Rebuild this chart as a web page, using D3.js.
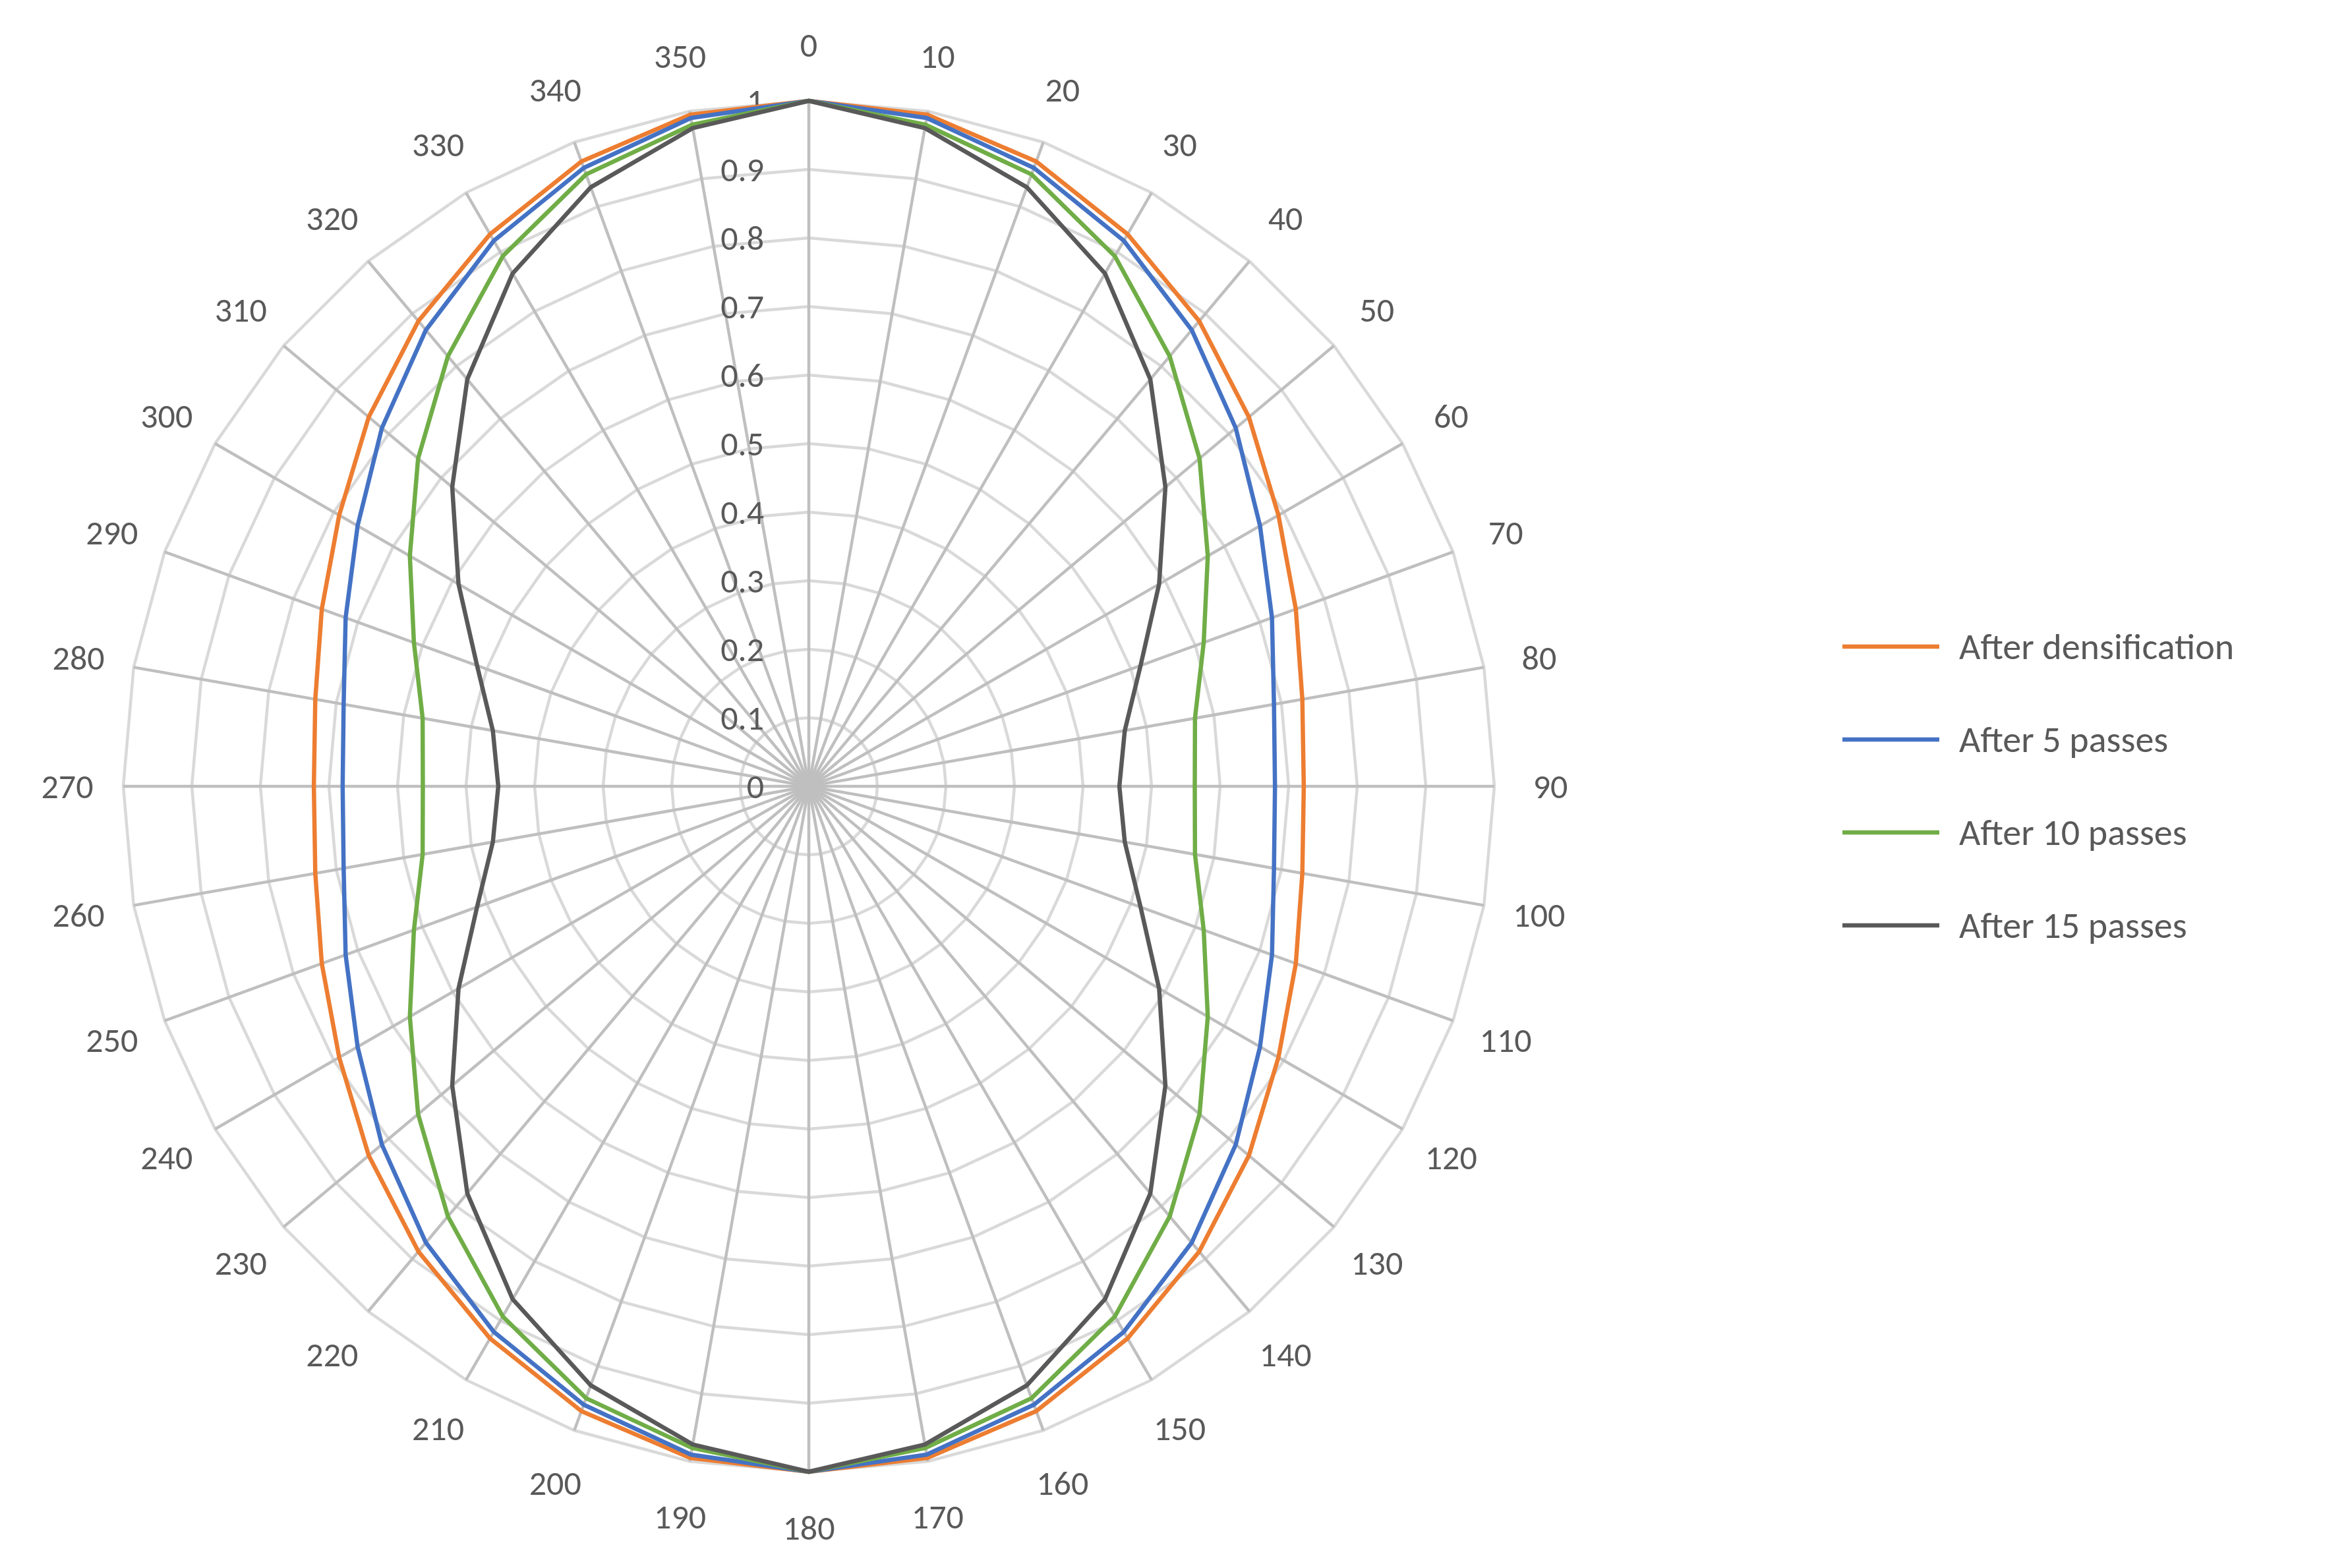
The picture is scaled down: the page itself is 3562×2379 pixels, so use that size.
<!DOCTYPE html>
<html>
<head>
<meta charset="utf-8">
<script src="https://cdn.jsdelivr.net/npm/d3@7"></script>
<style>
  body { margin: 0; background: #fff; }
  svg { display: block; font-family: Calibri, Carlito, "Open Sans", sans-serif; }
</style>
</head>
<body>
<svg id="chart" width="3562" height="2379"></svg>
<script>
// Углы (категории)
const angles = d3.range(0, 360, 10)
const ringTicks = [0, 0.1, 0.2, 0.3, 0.4, 0.5, 0.6, 0.7, 0.8, 0.9, 1]
const seriesNames = ['After densification', 'After 5 passes', 'After 10 passes', 'After 15 passes']

// Значения серий, 0..350
const densification = [1, 0.995, 0.97, 0.93, 0.886, 0.838, 0.791, 0.756, 0.731, 0.722, 0.731, 0.756, 0.791, 0.838, 0.886, 0.93, 0.97, 0.995,
  1, 0.995, 0.97, 0.93, 0.886, 0.838, 0.791, 0.756, 0.731, 0.722, 0.731, 0.756, 0.791, 0.838, 0.886, 0.93, 0.97, 0.995]
const passes5 = [1, 0.99, 0.96, 0.919, 0.869, 0.813, 0.76, 0.719, 0.689, 0.68, 0.689, 0.719, 0.76, 0.813, 0.869, 0.919, 0.96, 0.99,
  1, 0.99, 0.96, 0.919, 0.869, 0.813, 0.76, 0.719, 0.689, 0.68, 0.689, 0.719, 0.76, 0.813, 0.869, 0.919, 0.96, 0.99]
const passes10 = [1, 0.98, 0.95, 0.893, 0.819, 0.744, 0.672, 0.613, 0.572, 0.563, 0.572, 0.613, 0.672, 0.744, 0.819, 0.893, 0.95, 0.98,
  1, 0.98, 0.95, 0.893, 0.819, 0.744, 0.672, 0.613, 0.572, 0.563, 0.572, 0.613, 0.672, 0.744, 0.819, 0.893, 0.95, 0.98]
const passes15 = [1, 0.975, 0.93, 0.864, 0.775, 0.679, 0.59, 0.515, 0.468, 0.453, 0.468, 0.515, 0.59, 0.679, 0.775, 0.864, 0.93, 0.975,
  1, 0.975, 0.93, 0.864, 0.775, 0.679, 0.59, 0.515, 0.468, 0.453, 0.468, 0.515, 0.59, 0.679, 0.775, 0.864, 0.93, 0.975]

const colors = ['#ED7D31', '#4472C4', '#70AD47', '#595959']
const series = [densification, passes5, passes10, passes15]

const cx = 1227, cy = 1193, R = 1040
const svg = d3.select('#chart')
const g = svg.append('g').attr('transform', `translate(${cx},${cy})`)

const rScale = d3.scaleLinear().domain([0, 1]).range([0, R])
const aScale = d3.scaleLinear().domain([0, 360]).range([0, 2 * Math.PI])

// Кольца сетки (многоугольники)
const ring = d3.lineRadial()
  .angle(d => aScale(d))
  .radius(function () { return this })
  .curve(d3.curveLinearClosed)

ringTicks.slice(1).forEach(t => {
  g.append('path')
    .attr('d', d3.lineRadial().angle(d => aScale(d)).radius(rScale(t)).curve(d3.curveLinearClosed)(angles))
    .attr('fill', 'none')
    .attr('stroke', '#d9d9d9')
    .attr('stroke-width', 4.5)
})

// Лучи
g.selectAll('.spoke')
  .data(angles)
  .enter()
  .append('line')
  .attr('x1', 0).attr('y1', 0)
  .attr('x2', d => rScale(1) * Math.sin(aScale(d)))
  .attr('y2', d => -rScale(1) * Math.cos(aScale(d)))
  .attr('stroke', '#bfbfbf')
  .attr('stroke-width', 4.5)

// Подписи углов
g.selectAll('.alabel')
  .data(angles)
  .enter()
  .append('text')
  .attr('x', d => 1125 * Math.sin(aScale(d)))
  .attr('y', d => -1125 * Math.cos(aScale(d)))
  .attr('text-anchor', 'middle')
  .attr('dominant-baseline', 'central')
  .attr('fill', '#595959')
  .attr('font-size', 52)
  .text(d => d)

// Подписи шкалы
g.selectAll('.rlabel')
  .data(ringTicks)
  .enter()
  .append('text')
  .attr('x', -68)
  .attr('y', d => -rScale(d))
  .attr('text-anchor', 'end')
  .attr('dominant-baseline', 'central')
  .attr('fill', '#595959')
  .attr('font-size', 52)
  .text(d => d)

// Серии
const line = d3.lineRadial()
  .angle((d, i) => aScale(angles[i]))
  .radius(d => rScale(d))
  .curve(d3.curveLinearClosed)

series.forEach((s, i) => {
  g.append('path')
    .datum(s)
    .attr('d', line)
    .attr('fill', 'none')
    .attr('stroke', colors[i])
    .attr('stroke-width', 6.5)
    .attr('stroke-linejoin', 'round')
})

// Легенда
const legend = svg.selectAll('.legend')
  .data(seriesNames)
  .enter()
  .append('g')
  .attr('transform', (d, i) => `translate(2795,${981 + i * 141})`)

legend.append('line')
  .attr('x1', 0).attr('x2', 147)
  .attr('stroke', (d, i) => colors[i])
  .attr('stroke-width', 6.5)

legend.append('text')
  .attr('x', 177)
  .attr('dominant-baseline', 'central')
  .attr('fill', '#595959')
  .attr('font-size', 56)
  .text(d => d)
</script>
</body>
</html>
